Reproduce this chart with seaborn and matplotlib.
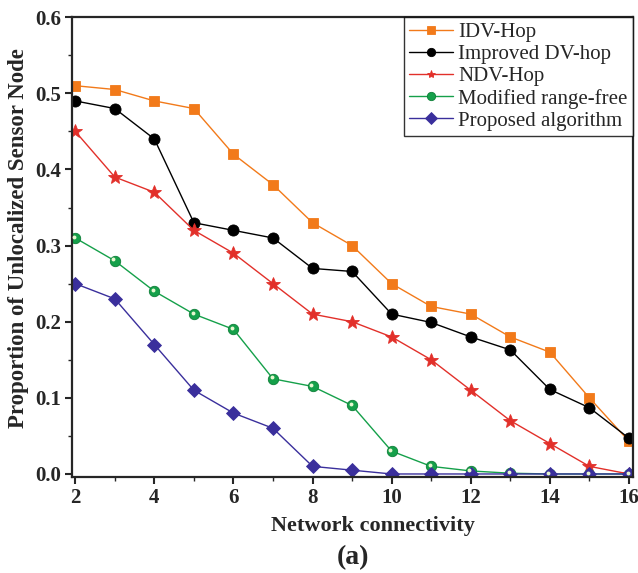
import numpy as np
import pandas as pd
import matplotlib
matplotlib.use("Agg")
import matplotlib.pyplot as plt
import matplotlib.transforms as mtransforms
from matplotlib.ticker import MultipleLocator
import seaborn as sns

connectivity = [2, 3, 4, 5, 6, 7, 8, 9, 10, 11, 12, 13, 14, 15, 16]
idv_hop = [0.51, 0.505, 0.49, 0.48, 0.42, 0.38, 0.33, 0.30, 0.25, 0.22, 0.21, 0.18, 0.16, 0.10, 0.043]
improved_dv_hop = [0.49, 0.48, 0.44, 0.33, 0.32, 0.31, 0.27, 0.266, 0.21, 0.199, 0.18, 0.163, 0.111, 0.087, 0.047]
ndv_hop = [0.45, 0.39, 0.37, 0.32, 0.29, 0.25, 0.21, 0.20, 0.18, 0.15, 0.11, 0.07, 0.04, 0.01, 0.0]
modified_range_free = [0.31, 0.28, 0.24, 0.21, 0.19, 0.125, 0.115, 0.09, 0.03, 0.01, 0.004, 0.001, 0.0, 0.0, 0.0]
proposed = [0.25, 0.23, 0.17, 0.11, 0.08, 0.06, 0.01, 0.005, 0.0, 0.0, 0.0, 0.0, 0.0, 0.0, 0.0]

series_names = ["IDV-Hop", "Improved DV-hop", "NDV-Hop", "Modified range-free", "Proposed algorithm"]
series_values = [idv_hop, improved_dv_hop, ndv_hop, modified_range_free, proposed]
colors = ["#F27A1A", "#000000", "#E2302A", "#15A04A", "#3A2F9C"]
markers = ["s", "o", "*", "o", "D"]
msizes = [7, 8, 10.5, 7.5, 7]

df = pd.DataFrame({
    "x": np.tile(connectivity, len(series_names)),
    "y": np.concatenate(series_values),
    "series": np.repeat(series_names, len(connectivity)),
})

sns.set_style("ticks")
plt.rcParams["font.family"] = ["Liberation Serif", "DejaVu Serif"]

fig = plt.figure(figsize=(6.38, 5.73), dpi=100)
ax = fig.add_axes([0.113, 0.1675, 0.879, 0.8025])

for name, c, m, ms in zip(series_names, colors, markers, msizes):
    sub = df[df["series"] == name]
    sns.lineplot(data=sub, x="x", y="y", ax=ax, color=c, marker=m, markersize=ms,
                 markeredgecolor=c if name != "Modified range-free" else "#0E7F38",
                 markeredgewidth=0.6, linewidth=1.0, label=name, legend=False)

# highlight on green sphere markers
sub = df[df["series"] == "Modified range-free"]
offset = mtransforms.ScaledTranslation(-1.0 / 72, 1.0 / 72, fig.dpi_scale_trans)
ax.plot(sub["x"], sub["y"], linestyle="none", marker="o", markersize=2.8,
        color="#E8F8D0", markeredgewidth=0, transform=ax.transData + offset, zorder=5)

ax.set_xlim(1.92, 16.1)
ax.set_ylim(-0.004, 0.6)
ax.xaxis.set_major_locator(MultipleLocator(2))
ax.xaxis.set_minor_locator(MultipleLocator(1))
ax.yaxis.set_major_locator(MultipleLocator(0.1))
ax.yaxis.set_minor_locator(MultipleLocator(0.05))
ax.yaxis.set_major_formatter(matplotlib.ticker.FormatStrFormatter("%.1f"))

ax.tick_params(axis="both", which="major", direction="out", length=5, width=1.5,
               labelsize=15, pad=3, top=False, right=False)
ax.tick_params(axis="both", which="minor", direction="out", length=3, width=1.0,
               top=False, right=False)
for lab in ax.get_xticklabels() + ax.get_yticklabels():
    lab.set_fontweight("bold")

for s in ax.spines.values():
    s.set_linewidth(1.6)
    s.set_visible(True)

ax.set_xlabel("Network connectivity", fontsize=16, fontweight="bold")
ax.set_ylabel("Proportion of Unlocalized Sensor Node", fontsize=16.5, fontweight="bold")
ax.xaxis.set_label_coords(0.537, -0.085)
ax.yaxis.set_label_coords(-0.076, 0.52)

fig.text(0.553, 0.026, "(a)", fontsize=20, fontweight="bold", ha="center", va="center")

leg = ax.legend(loc="upper right", fontsize=15, frameon=True, fancybox=False,
                borderaxespad=0, handlelength=2.1, handletextpad=0.25,
                labelspacing=0.12, borderpad=0.25)
leg.get_frame().set_edgecolor("black")
leg.get_frame().set_linewidth(1.0)
for h in leg.legend_handles:
    h.set_markersize(6)

fig.savefig("out.png", dpi=100)
